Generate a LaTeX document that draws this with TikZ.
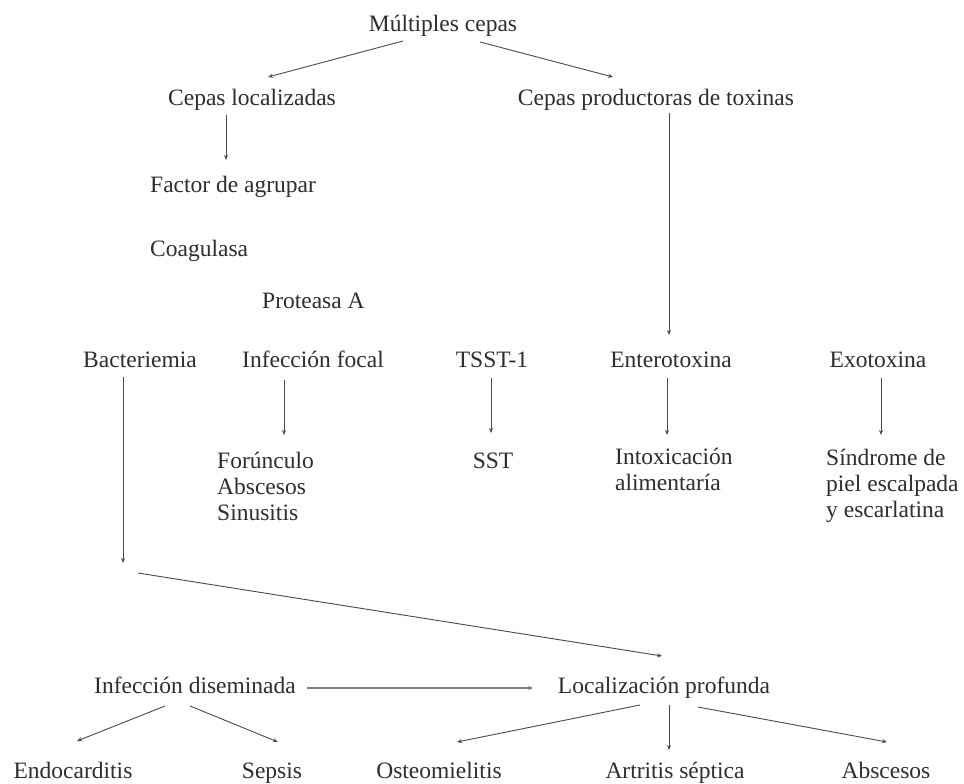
\documentclass[tikz,border=0pt]{standalone}
\usepackage{fontspec}
\setmainfont{Liberation Serif}
\usetikzlibrary{arrows.meta}
\definecolor{txt}{HTML}{2E2E2E}
\definecolor{ln}{HTML}{4A4A4A}
\begin{document}
\begin{tikzpicture}[x=1pt,y=-1pt,
  lbl/.style={inner sep=0pt,text=txt,font=\fontsize{23.5}{26}\selectfont},
  lblc/.style={lbl,anchor=base},
  lblw/.style={lbl,anchor=base west},
  multi/.style={lbl,anchor=north west,align=left},
  arr/.style={draw=ln,line width=0.9pt,-{Stealth[length=5pt,width=4pt]}},
  thick arr/.style={draw=ln!70,line width=1.8pt,-{Stealth[length=5pt,width=4.5pt]}}]
\fill[white] (0,0) rectangle (964,784);
\useasboundingbox (0,0) rectangle (964,784);

\node[lblc] (mc) at (443,32) {Múltiples cepas};
\node[lblc] (cl) at (252,105) {Cepas localizadas};
\node[lblc] (cp) at (656,105) {Cepas productoras de toxinas};
\node[lblw] (fa) at (150,192) {Factor de agrupar};
\node[lblw] (co) at (150,256) {Coagulasa};
\node[lblw] (pa) at (262,308) {Proteasa A};
\node[lblc] (ba) at (140,367) {Bacteriemia};
\node[lblc] (if) at (313,367) {Infección focal};
\node[lblc] (ts) at (492,367) {TSST-1};
\node[lblc] (en) at (671,367) {Enterotoxina};
\node[lblc] (ex) at (878,367) {Exotoxina};
\node[multi] (fo) at (217,452) {Forúnculo\\Abscesos\\Sinusitis};
\node[lblc] (sst) at (493,468) {SST};
\node[multi] (ia) at (615,448) {Intoxicación\\alimentaría};
\node[multi] (sd) at (826,449) {Síndrome de\\piel escalpada\\y escarlatina};
\node[lblc] (id) at (195,693) {Infección diseminada};
\node[lblc] (lp) at (664,693) {Localización profunda};
\node[lblc] (ed) at (73,778) {Endocarditis};
\node[lblc] (se) at (272,778) {Sepsis};
\node[lblc] (os) at (439,778) {Osteomielitis};
\node[lblc] (ar) at (675,778) {Artritis séptica};
\node[lblc] (ab) at (886,778) {Abscesos};

\coordinate (b1) at (123,563);
\coordinate (b2) at (138,573);

\draw[arr] ([shift={(-40,9)}]mc.base) -- ([shift={(16,-28)}]cl.base);
\draw[arr] ([shift={(37,10)}]mc.base) -- ([shift={(-43,-28)}]cp.base);
\draw[arr] ([shift={(-26,10)}]cl.base) -- ([shift={(76,-32)}]fa.base west);
\draw[arr] ([shift={(13,8)}]cp.base) -- ([shift={(-2,-32)}]en.base);
\draw[arr] ([shift={(-17,10)}]ba.base) -- (b1);
\draw[arr] (b2) -- ([shift={(-2,-37)}]lp.base);
\draw[arr] ([shift={(-29,13)}]if.base) -- ([shift={(67,-17)}]fo.north west);
\draw[arr] ([shift={(-1,11)}]ts.base) -- ([shift={(-2,-35)}]sst.base);
\draw[arr] ([shift={(-4,11)}]en.base) -- ([shift={(52,-13)}]ia.north west);
\draw[arr] ([shift={(3,11)}]ex.base) -- ([shift={(55,-14)}]sd.north west);
\draw[thick arr] ([shift={(112,-5)}]id.base) -- ([shift={(-131,-5)}]lp.base);
\draw[arr] ([shift={(-30,13)}]id.base) -- ([shift={(4,-37)}]ed.base);
\draw[arr] ([shift={(-5,13)}]id.base) -- ([shift={(6,-36)}]se.base);
\draw[arr] ([shift={(-24,12)}]lp.base) -- ([shift={(18,-36)}]os.base);
\draw[arr] ([shift={(5,12)}]lp.base) -- ([shift={(-6,-28)}]ar.base);
\draw[arr] ([shift={(34,14)}]lp.base) -- ([shift={(1,-36)}]ab.base);
\end{tikzpicture}
\end{document}
